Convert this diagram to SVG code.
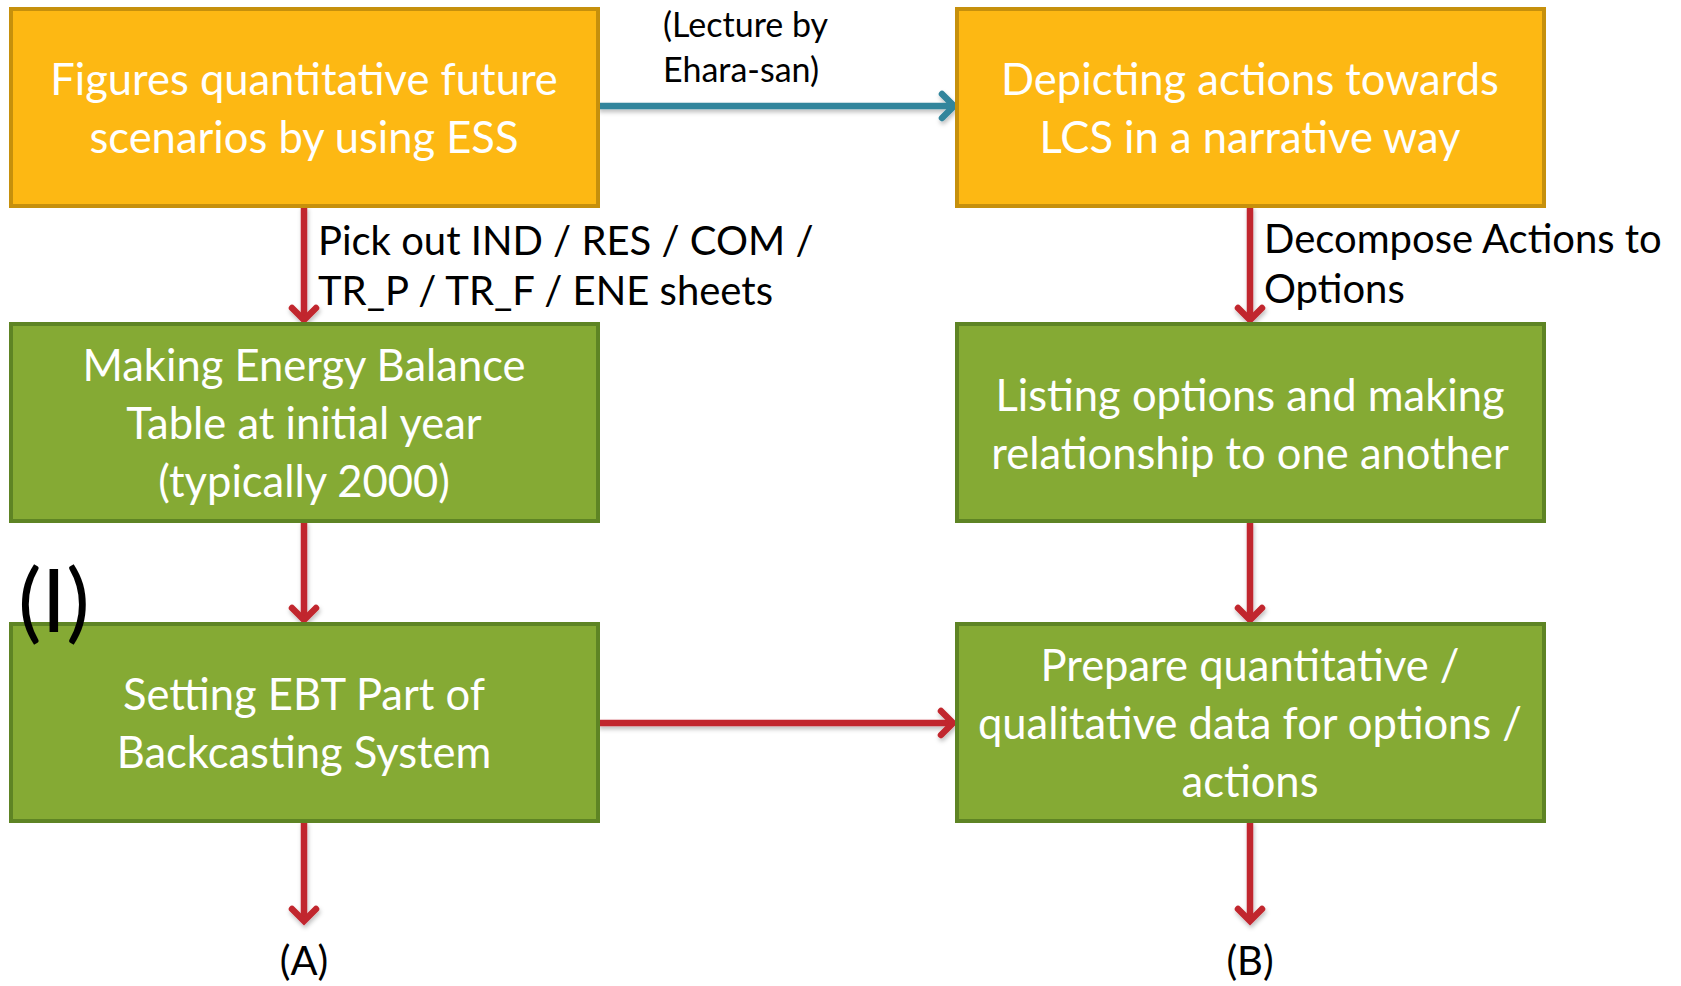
<svg xmlns="http://www.w3.org/2000/svg" width="1681" height="986" viewBox="0 0 1681 986">
  <style>
    .box-o { fill: #FDB813; stroke: #C6900C; stroke-width: 4; }
    .box-g { fill: #85AA34; stroke: #5E8424; stroke-width: 4; }
    .in { font-family: Lato, "Open Sans", sans-serif; font-size: 43.5px; fill: #FFFFFF; text-anchor: middle; }
    .lbl { font-family: Lato, "Open Sans", sans-serif; font-size: 40px; fill: #000000; }
    .small { font-family: Lato, "Open Sans", sans-serif; font-size: 34px; fill: #000000; }
    .red { fill: none; stroke: #C1272D; stroke-width: 6.5; }
    .teal { fill: none; stroke: #31859C; stroke-width: 6.5; }
  </style>
  <defs>
    <filter id="shadow" x="-10%" y="-50%" width="120%" height="200%">
      <feDropShadow dx="1" dy="3" stdDeviation="2" flood-color="#000000" flood-opacity="0.25"/>
    </filter>
    <marker id="head-red" markerUnits="userSpaceOnUse" viewBox="-20 -16 26 32" refX="0" refY="0" markerWidth="26" markerHeight="32" orient="auto" overflow="visible">
      <path d="M-12,-12 L0,0 L-12,12" fill="none" stroke="#C1272D" stroke-width="6.5" stroke-linejoin="miter" stroke-linecap="round"/>
    </marker>
    <marker id="head-teal" markerUnits="userSpaceOnUse" viewBox="-20 -16 26 32" refX="0" refY="0" markerWidth="26" markerHeight="32" orient="auto" overflow="visible">
      <path d="M-12,-12 L0,0 L-12,12" fill="none" stroke="#31859C" stroke-width="6.5" stroke-linejoin="miter" stroke-linecap="round"/>
    </marker>
  </defs>

  <!-- connectors -->
  <g id="connectors" filter="url(#shadow)">
    <path class="teal" d="M598,106 L954,106" marker-end="url(#head-teal)"/>
    <path class="red" d="M304,206 L304,320" marker-end="url(#head-red)"/>
    <path class="red" d="M304,521 L304,620" marker-end="url(#head-red)"/>
    <path class="red" d="M304,821 L304,921" marker-end="url(#head-red)"/>
    <path class="red" d="M1250,206 L1250,320" marker-end="url(#head-red)"/>
    <path class="red" d="M1250,521 L1250,620" marker-end="url(#head-red)"/>
    <path class="red" d="M1250,821 L1250,921" marker-end="url(#head-red)"/>
    <path class="red" d="M598,723 L953,723" marker-end="url(#head-red)"/>
  </g>

  <g id="node-figures">
    <rect class="box-o" x="11" y="9" width="587" height="197"/>
    <text class="in" x="304" y="95">Figures quantitative future</text>
    <text class="in" x="304" y="153">scenarios by using ESS</text>
  </g>

  <g id="node-depicting">
    <rect class="box-o" x="957" y="9" width="587" height="197"/>
    <text class="in" x="1250" y="95">Depicting actions towards</text>
    <text class="in" x="1250" y="153">LCS in a narrative way</text>
  </g>

  <g id="node-ebt-initial">
    <rect class="box-g" x="11" y="324" width="587" height="197"/>
    <text class="in" x="304" y="381">Making Energy Balance</text>
    <text class="in" x="304" y="439">Table at initial year</text>
    <text class="in" x="304" y="497">(typically 2000)</text>
  </g>

  <g id="node-listing">
    <rect class="box-g" x="957" y="324" width="587" height="197"/>
    <text class="in" x="1250" y="411">Listing options and making</text>
    <text class="in" x="1250" y="469">relationship to one another</text>
  </g>

  <g id="node-setting">
    <rect class="box-g" x="11" y="624" width="587" height="197"/>
    <text class="in" x="304" y="710">Setting EBT Part of</text>
    <text class="in" x="304" y="768">Backcasting System</text>
  </g>

  <g id="node-prepare">
    <rect class="box-g" x="957" y="624" width="587" height="197"/>
    <text class="in" x="1250" y="681">Prepare quantitative /</text>
    <text class="in" x="1250" y="739">qualitative data for options /</text>
    <text class="in" x="1250" y="797">actions</text>
  </g>

  <!-- connector labels and markers -->
  <g id="labels">
    <text class="small" x="663" y="37">(Lecture by</text>
    <text class="small" x="663" y="82">Ehara-san)</text>
    <text class="lbl" x="318" y="255">Pick out IND / RES / COM /</text>
    <text class="lbl" x="318" y="305">TR_P / TR_F / ENE sheets</text>
    <text class="lbl" x="1264" y="253">Decompose Actions to</text>
    <text class="lbl" x="1264" y="303">Options</text>
    <text class="lbl" x="304" y="975" text-anchor="middle">(A)</text>
    <text class="lbl" x="1250" y="975" text-anchor="middle">(B)</text>
    <text x="18" y="632" font-family="Lato, 'Open Sans', sans-serif" font-size="88" fill="#000000">(I)</text>
  </g>
</svg>
